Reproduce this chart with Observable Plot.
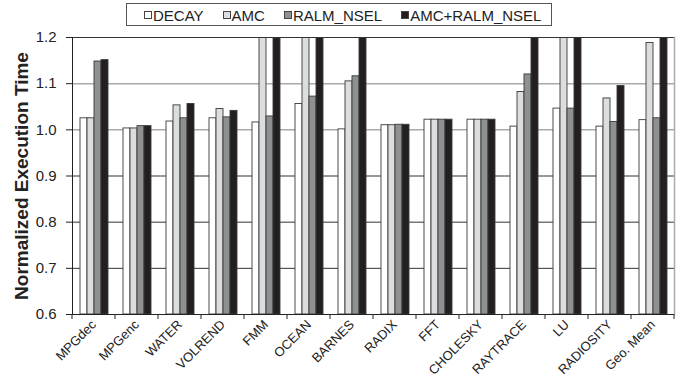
<!DOCTYPE html>
<html>
<head>
<meta charset="utf-8">
<script src="https://cdn.jsdelivr.net/npm/d3@7"></script>
<script src="https://cdn.jsdelivr.net/npm/@observablehq/plot@0.6"></script>
<style>
  body { margin: 0; background: #fff; }
  #wrap { position: relative; width: 686px; height: 383px; font-family: "Liberation Sans", Arial, sans-serif; color: #222; }
  #legend {
    position: absolute; left: 126px; top: 3px; height: 23px; box-sizing: border-box; z-index: 1;
    border: 1px solid #555; background: #fff; display: flex; align-items: center; padding: 1px 10px 0 17px;
    font-size: 15px; white-space: nowrap;
  }
  #legend .item { display: flex; align-items: center; margin-right: 19px; }
  #legend .item:last-child { margin-right: 0; }
  #legend .sw { width: 6px; height: 6px; border: 1px solid #444; margin-right: 1px; }
  #chart { position: absolute; left: 0; top: 0; }
  #chart svg g[aria-label^="fx-axis"] text { font-size: 13px; }
  #chart svg g[aria-label="y-axis label"] text { font-weight: bold; font-size: 19px; }
</style>
</head>
<body>
<div id="wrap">
  <div id="chart"></div>
  <div id="legend"></div>
</div>
<script>
// Benchmarks and cache configurations
const benchmarks = ["MPGdec", "MPGenc", "WATER", "VOLREND", "FMM", "OCEAN", "BARNES", "RADIX", "FFT", "CHOLESKY", "RAYTRACE", "LU", "RADIOSITY", "Geo. Mean"];
const configs = ["DECAY", "AMC", "RALM_NSEL", "AMC+RALM_NSEL"];

// Normalized execution time per configuration (values above 1.2 run off the top of the axis)
const decay   = [1.025, 1.003, 1.018, 1.025, 1.016, 1.056, 1.001, 1.010, 1.022, 1.022, 1.007, 1.046, 1.007, 1.021];
const amc     = [1.025, 1.003, 1.053, 1.045, 1.32, 1.30, 1.105, 1.010, 1.022, 1.022, 1.082, 1.27, 1.068, 1.188];
const ralm    = [1.148, 1.008, 1.025, 1.027, 1.029, 1.072, 1.116, 1.011, 1.022, 1.022, 1.120, 1.046, 1.017, 1.025];
const amcRalm = [1.151, 1.008, 1.056, 1.041, 1.35, 1.33, 1.30, 1.011, 1.022, 1.022, 1.25, 1.35, 1.095, 1.23];

const yTicks = [0.6, 0.7, 0.8, 0.9, 1.0, 1.1, 1.2];
const gridLight = [1.0, 1.1];
const gridDark = [0.7, 0.8, 0.9];

const fills = ["#ffffff", "#dcdddf", "#8f9092", "#231f20"];

const series = [decay, amc, ralm, amcRalm];
const rows = [];
benchmarks.forEach((b, i) => {
  configs.forEach((c, j) => rows.push({benchmark: b, config: c, value: series[j][i]}));
});

// Legend
const legend = d3.select("#legend");
configs.forEach((c, j) => {
  const item = legend.append("div").attr("class", "item");
  item.append("div").attr("class", "sw").style("background", fills[j]);
  item.append("span").text(c);
});

const chart = Plot.plot({
  width: 686,
  height: 383,
  marginTop: 37,
  marginBottom: 69,
  marginLeft: 69,
  marginRight: 10,
  style: {fontFamily: "'Liberation Sans', Arial, sans-serif", fontSize: "15px", color: "#222", background: "transparent"},
  fx: {domain: benchmarks, padding: 0, label: null, tickRotate: -45, tickSize: 0, tickPadding: 8},
  x: {domain: configs, paddingInner: 0, paddingOuter: 0.76, axis: null},
  y: {domain: [0.6, 1.2], ticks: yTicks, tickFormat: ".1f", tickSize: 6, tickPadding: 10,
      label: "Normalized Execution Time", labelAnchor: "center", labelArrow: "none", labelOffset: 58},
  color: {domain: configs, range: fills},
  marks: [
    Plot.ruleY(gridLight, {stroke: "#a9a9a9", strokeWidth: 1.5}),
    Plot.ruleY(gridDark, {stroke: "#333", strokeWidth: 1}),
    Plot.barY(rows, {fx: "benchmark", x: "config", y1: 0.6, y2: "value", fill: "config",
                     stroke: "#3a3a3a", strokeWidth: 0.9, clip: true}),
    Plot.ruleY([1.2], {stroke: "#333", strokeWidth: 1}),
    Plot.ruleY([0.6], {stroke: "#222", strokeWidth: 1}),
    Plot.frame({facet: "super", anchor: "left", stroke: "#222"}),
    Plot.frame({facet: "super", anchor: "right", stroke: "#aaa", strokeWidth: 1.5})
  ]
});

document.getElementById("chart").appendChild(chart);

// Tick marks at the boundaries between benchmark groups
const fx = chart.scale("fx");
const yScale = chart.scale("y");
const yb = yScale.apply(0.6);
const bounds = benchmarks.map(b => fx.apply(b)).concat([fx.apply(benchmarks[benchmarks.length - 1]) + fx.step]);
d3.select(chart).append("g").attr("aria-label", "group ticks")
  .selectAll("line").data(bounds).join("line")
  .attr("x1", d => d).attr("x2", d => d)
  .attr("y1", yb).attr("y2", yb + 5)
  .attr("stroke", "#222");
</script>
</body>
</html>
